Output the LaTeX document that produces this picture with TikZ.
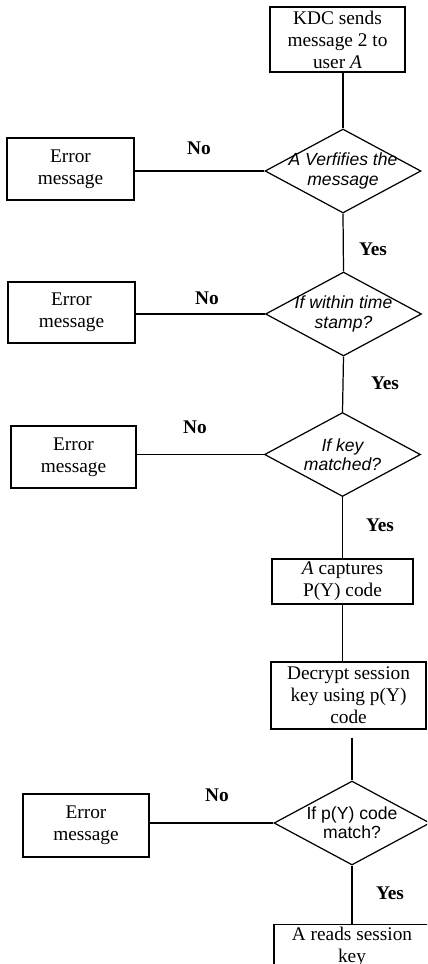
\documentclass[tikz,border=0pt]{standalone}
\usepackage{fontspec}
\setmainfont{Liberation Serif}
\setsansfont{Liberation Sans}
\usetikzlibrary{shapes.geometric}

\begin{document}
\begin{tikzpicture}[x=0.02cm,y=-0.02cm,line width=0.7pt,
	box/.style={draw, rectangle, align=center, inner sep=0pt, font=\fontsize{11}{12.5}\selectfont},
	test/.style={draw, diamond, inner sep=0pt, minimum width=3.12cm, minimum height=1.68cm},
	ttext/.style={align=center, font=\sffamily\itshape\fontsize{10}{11}\selectfont},
	lbl/.style={font=\bfseries\fontsize{11}{13}\selectfont}]
		\clip (0,0) rectangle (427,964);
		\node (s1) [box, minimum width=2.7cm, minimum height=1.3cm] at (337.5,39.5) {KDC sends\\message 2 to\\user \textit{A}};
		\node (d1) [test, label={[ttext]center:A Verfifies the\\message}] at (343,171) {};
		\node (d2) [test, label={[ttext]center:If within time\\stamp?}] at (343.5,314) {};
		\node (d3) [test, label={[ttext]center:If key\\matched?}] at (342.5,454.5) {};
		\node (p1) [box, minimum width=2.82cm, minimum height=0.9cm] at (342.5,581.5) {\textit{A} captures\\P(Y) code};
		\node (p2) [box, minimum width=3.1cm, minimum height=1.34cm] at (348.5,695.5) {Decrypt session\\key using p(Y)\\code};
		\node (d4) [test, label={[ttext, font=\sffamily\fontsize{10}{11}\selectfont]center:If p(Y) code\\match?}] at (352,823) {};
		\node (p3) [box, minimum width=3.12cm, minimum height=0.9cm] at (352,947) {A reads session\\key};
		\node (e1) [box, minimum width=2.54cm, minimum height=1.24cm] at (70.5,169) {Error\\message};
		\node (e2) [box, minimum width=2.54cm, minimum height=1.22cm] at (71.5,312.5) {Error\\message};
		\node (e3) [box, minimum width=2.5cm, minimum height=1.24cm] at (73.5,457) {Error\\message};
		\node (e4) [box, minimum width=2.52cm, minimum height=1.26cm] at (86,825.5) {Error\\message};
		\node (n1) [lbl] at (199,148) {No};
		\node (n2) [lbl] at (207,298) {No};
		\node (n3) [lbl] at (195,427) {No};
		\node (n4) [lbl] at (217,795) {No};
		\node (y1) [lbl] at (373,249) {Yes};
		\node (y2) [lbl] at (385,383) {Yes};
		\node (y3) [lbl] at (380,525) {Yes};
		\node (y4) [lbl] at (390,893) {Yes};
		\draw (s1.south -| d1.north) -- (d1.north);
		\draw (d1.south) -- (d2.north);
		\draw (d2.south) -- (d3.north);
		\draw (d3.south) -- (d3.south |- p1.north);
		\draw (p1.south) -- (p1.south |- p2.north);
		\draw [shorten <=0.16cm] (p2.south -| d4.north) -- (d4.north);
		\draw (d4.south) -- (d4.south |- p3.north);
		\draw (e1.east |- d1.west) -- (d1.west);
		\draw (e2.east |- d2.west) -- (d2.west);
		\draw (e3.east |- d3.west) -- (d3.west);
		\draw (e4.east |- d4.west) -- (d4.west);
\end{tikzpicture}
\end{document}
